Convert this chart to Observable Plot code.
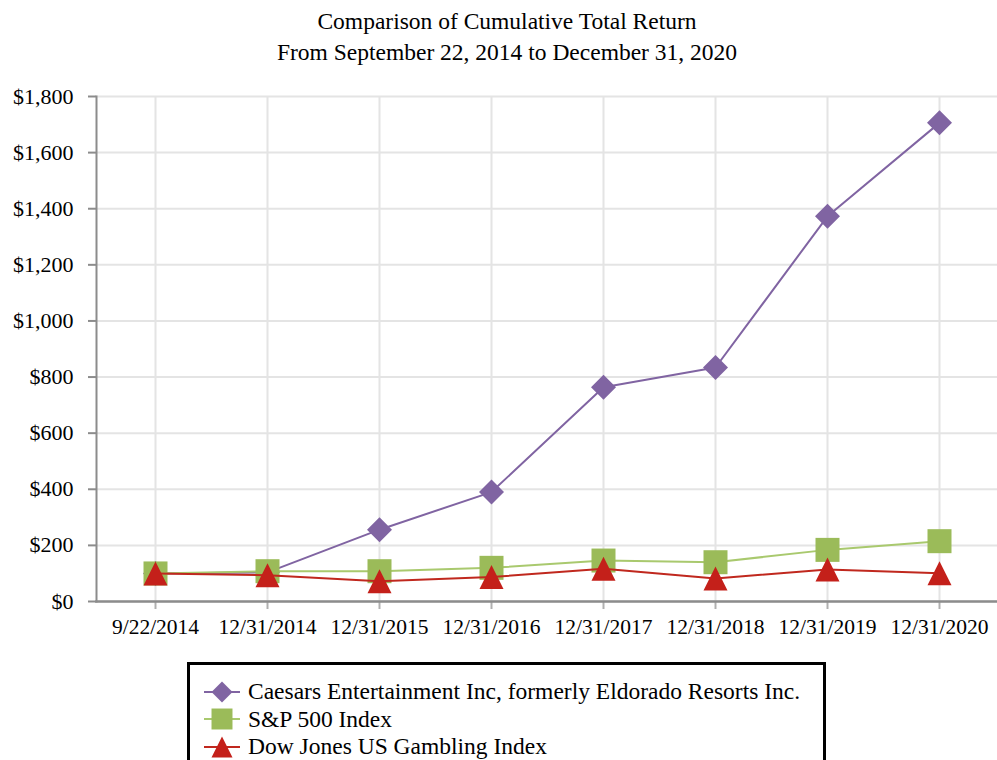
<!DOCTYPE html>
<html>
<head>
<meta charset="utf-8">
<script src="https://cdn.jsdelivr.net/npm/d3@7"></script>
<script src="https://cdn.jsdelivr.net/npm/@observablehq/plot@0.6"></script>
<style>
  html, body { margin: 0; padding: 0; background: #fff; }
  body { width: 997px; font-family: "Liberation Serif", "Times New Roman", serif; color: #000; }
  #title { width: 1014px; text-align: center; font-size: 23.5px; line-height: 31px; padding-top: 6px; height: 80px; box-sizing: border-box; }
  #chart { height: 571px; }
  #legend { position: absolute; left: 187px; top: 662px; width: 639px; height: 120px; border: 3px solid #000; box-sizing: border-box; background: #fff; padding-top: 13px; }
  .row { display: flex; align-items: center; height: 27.5px; font-size: 23.5px; }
  .row svg { margin-left: 14px; margin-right: 8px; }
</style>
</head>
<body>
<div id="title">Comparison of Cumulative Total Return<br>From September 22, 2014 to December 31, 2020</div>
<div id="chart"></div>
<div id="legend"></div>
<script>
// ---- data ----
const dates = ["9/22/2014", "12/31/2014", "12/31/2015", "12/31/2016", "12/31/2017", "12/31/2018", "12/31/2019", "12/31/2020"];
const caesars = [100, 104, 256, 390, 764, 834, 1373, 1706];
const sp500 = [100, 108, 108, 120, 146, 140, 184, 215];
const djGambling = [100, 94, 72, 87, 117, 82, 114, 101];
const seriesNames = ["Caesars Entertainment Inc, formerly Eldorado Resorts Inc.", "S&P 500 Index", "Dow Jones US Gambling Index"];
const yTicks = [0, 200, 400, 600, 800, 1000, 1200, 1400, 1600, 1800];

// ---- custom symbols (width = sqrt(size)) ----
const diamondSym = { draw(ctx, size) { const h = Math.sqrt(size) / 2; ctx.moveTo(0, -h); ctx.lineTo(h, 0); ctx.lineTo(0, h); ctx.lineTo(-h, 0); ctx.closePath(); } };
const squareSym = { draw(ctx, size) { const h = Math.sqrt(size) / 2; ctx.rect(-h, -h, 2 * h, 2 * h); } };
const triangleSym = { draw(ctx, size) { const h = Math.sqrt(size) / 2; ctx.moveTo(0, -h); ctx.lineTo(h, h); ctx.lineTo(-h, h); ctx.closePath(); } };

const series = [
  { name: seriesNames[0], values: caesars, line: "#8064a2", fill: "#8064a2", symbol: diamondSym, size: 25 },
  { name: seriesNames[1], values: sp500, line: "#a9c96e", fill: "#9bbb59", symbol: squareSym, size: 24 },
  { name: seriesNames[2], values: djGambling, line: "#c0281e", fill: "#c4201a", symbol: triangleSym, size: 24 }
];
const rows = s => dates.map((d, i) => ({ date: d, value: s.values[i] }));
const rFor = w => Math.sqrt(w * w / Math.PI);

const marks = [
  Plot.gridX(dates, { stroke: "#e4e4e4", strokeOpacity: 1, strokeWidth: 2 }),
  Plot.gridY(yTicks, { stroke: "#e4e4e4", strokeOpacity: 1, strokeWidth: 2 }),
  Plot.axisY({ ticks: yTicks, tickSize: 8, tickPadding: 15, tickFormat: d => "$" + d3.format(",")(d), stroke: "#8c8c8c", strokeWidth: 2, fill: "#000", fontSize: 22, label: null }),
  Plot.axisX({ tickSize: 8, tickPadding: 9, stroke: "#b0b0b0", strokeWidth: 2, fill: "#000", fontSize: 21.5, label: null }),
  Plot.frame({ anchor: "left", stroke: "#8c8c8c", strokeWidth: 2 }),
  Plot.frame({ anchor: "bottom", stroke: "#8c8c8c", strokeWidth: 2.5 })
];
for (const s of series) {
  marks.push(Plot.line(rows(s), { x: "date", y: "value", stroke: s.line, strokeWidth: 2 }));
  marks.push(Plot.dot(rows(s), { x: "date", y: "value", symbol: s.symbol, r: rFor(s.size), fill: s.fill, stroke: "none" }));
}

const chart = Plot.plot({
  width: 997,
  height: 571,
  marginTop: 16,
  marginLeft: 96,
  marginRight: 0,
  marginBottom: 50,
  style: { fontFamily: "Liberation Serif, Times New Roman, serif", fontSize: "21px", color: "#000", background: "#fff", overflow: "visible" },
  x: { type: "point", domain: dates, padding: 0.5, label: null },
  y: { domain: [0, 1800], label: null },
  marks
});
document.getElementById("chart").appendChild(chart);

// ---- legend ----
const legend = d3.select("#legend");
for (const s of series) {
  const row = legend.append("div").attr("class", "row");
  const svg = row.append("svg").attr("width", 36).attr("height", 26);
  svg.append("line").attr("x1", 0).attr("x2", 36).attr("y1", 13).attr("y2", 13).attr("stroke", s.line).attr("stroke-width", 2);
  svg.append("path").attr("transform", "translate(18,13)").attr("d", d3.symbol(s.symbol, 440)()).attr("fill", s.fill);
  row.append("span").text(s.name);
}
</script>
</body>
</html>
